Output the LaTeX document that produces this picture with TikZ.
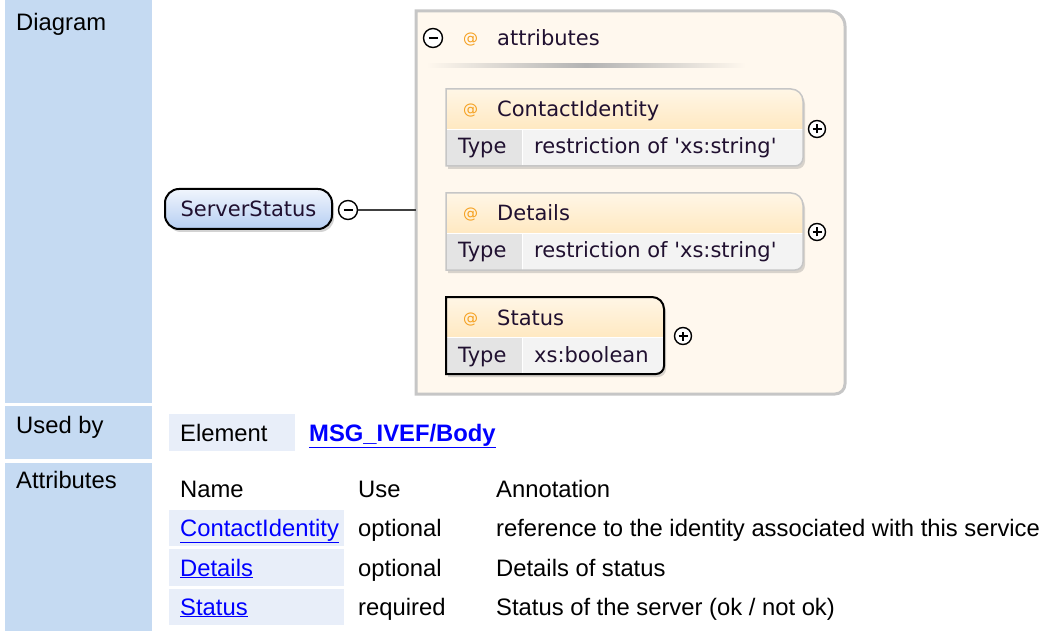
\documentclass[tikz,border=0pt]{standalone}
\usepackage{fontspec}
\setmainfont{Liberation Sans}
\newfontfamily\dgfont{DejaVu Sans}
\usepackage{tikz}
\usetikzlibrary{positioning,shadows}
\definecolor{cellblue}{HTML}{C5DAF2}
\definecolor{rowblue}{HTML}{E8EEF9}
\definecolor{linkblue}{HTML}{0000FF}
\definecolor{cream}{HTML}{FFF8EE}
\definecolor{frame}{HTML}{C6C6C6}
\definecolor{hdrtop}{HTML}{FFF6E6}
\definecolor{hdrbot}{HTML}{FFDCA0}
\definecolor{typegray}{HTML}{E4E4E4}
\definecolor{valgray}{HTML}{F3F3F3}
\definecolor{ink}{HTML}{201030}
\definecolor{atorange}{HTML}{F5A020}
\definecolor{pilltop}{HTML}{F0F5FD}
\definecolor{pillbot}{HTML}{B6CEF2}
\tikzset{
  cell/.style    ={fill=cellblue, draw=none, inner sep=0pt, anchor=north west, minimum width=147pt},
  rowcell/.style ={fill=rowblue, draw=none, inner sep=0pt, anchor=north west},
  txt/.style     ={font=\fontsize{23.8}{28}\selectfont, anchor=base west, inner sep=0pt},
  lnk/.style     ={txt, text=linkblue},
  dg/.style      ={font=\dgfont\fontsize{21}{25}\selectfont, text=ink, anchor=base west, inner sep=0pt},
  atsign/.style  ={dg, text=atorange, font=\dgfont\fontsize{15}{18}\selectfont},
  elem/.style    ={draw=black, line width=2pt, rounded corners=14pt, top color=pilltop, bottom color=pillbot, minimum width=167pt, minimum height=40pt, font=\dgfont\fontsize{21}{25}\selectfont, text=ink, drop shadow={shadow xshift=2pt, shadow yshift=-3pt, opacity=.35}},
  box/.style     ={fill=valgray, draw=frame, line width=1.5pt, drop shadow={shadow xshift=2pt, shadow yshift=-3pt, opacity=.3}},
  toggle/.style  ={draw=black, circle, line width=1.4pt, fill=white, minimum size=17pt, inner sep=0pt},
  minus/.style   ={toggle, path picture={\draw[line width=1.5pt] ([xshift=-4.5pt]path picture bounding box.center) -- ([xshift=4.5pt]path picture bounding box.center);}},
  plus/.style    ={toggle, path picture={\draw[line width=1.5pt] ([xshift=-4.5pt]path picture bounding box.center) -- ([xshift=4.5pt]path picture bounding box.center) ([yshift=-4.5pt]path picture bounding box.center) -- ([yshift=4.5pt]path picture bounding box.center);}},
  conn/.style    ={draw=black!75, line width=2.2pt},
}

\begin{document}
\begin{tikzpicture}[x=1pt, y=-1pt]
  \useasboundingbox (0,0) rectangle (1047,631);

  % left column
  \node[cell, minimum height=403pt] (diagCell) at (5,0) {};
  \node[cell, minimum height=53pt]  (usedCell) at (5,406) {};
  \node[cell, minimum height=168pt] (attrCell) at (5,463) {};
  \node[txt] (diagLbl) at (16,31)  {Diagram};
  \node[txt] (usedLbl) at (16,433) {Used by};
  \node[txt] (attrLbl) at (16,488) {Attributes};

  % attributes group
  \path[fill=cream, draw=frame, line width=3pt] (416,394) -- (416,11) -- (830,11) arc[start angle=90, end angle=0, radius=15pt] -- (845,384) arc[start angle=0, end angle=-90, radius=10pt] -- cycle;
  \shade[left color=cream, right color=cream, middle color=black!30] (426,64) rectangle (746,68);
  \node[minus, minimum size=19pt] (grpMinus) at (433,38) {};
  \node[atsign] (grpAt)  at (463,44) {@};
  \node[dg]     (grpHdr) at (497,46) {attributes};

  % ContactIdentity
  \path[box, path picture={
      \shade[top color=hdrtop, bottom color=hdrbot] (446,89) rectangle (803,129);
      \fill[typegray] (446,129) rectangle (522,166);
      \draw[white, line width=1pt] (446,129.5) -- (803,129.5) (522,129) -- (522,166);}]
    (446,166) -- (446,89) -- (791,89) arc[start angle=90, end angle=0, radius=12pt] -- (803,158) arc[start angle=0, end angle=-90, radius=8pt] -- cycle;
  \node[atsign] (ciAt)   at (463,115) {@};
  \node[dg]     (ciName) at (497,117) {ContactIdentity};
  \node[dg]     (ciType) at (458,154) {Type};
  \node[dg]     (ciVal)  at (534,154) {restriction of 'xs:string'};
  \node[plus]   (ciPlus) at (817,129) {};

  % Details
  \path[box, path picture={
      \shade[top color=hdrtop, bottom color=hdrbot] (446,193) rectangle (803,233);
      \fill[typegray] (446,233) rectangle (522,270);
      \draw[white, line width=1pt] (446,233.5) -- (803,233.5) (522,233) -- (522,270);}]
    (446,270) -- (446,193) -- (791,193) arc[start angle=90, end angle=0, radius=12pt] -- (803,262) arc[start angle=0, end angle=-90, radius=8pt] -- cycle;
  \node[atsign] (dtAt)   at (463,219) {@};
  \node[dg]     (dtName) at (497,221) {Details};
  \node[dg]     (dtType) at (458,258) {Type};
  \node[dg]     (dtVal)  at (534,258) {restriction of 'xs:string'};
  \node[plus]   (dtPlus) at (817,232) {};

  % Status
  \path[box, draw=black, line width=2pt, path picture={
      \shade[top color=hdrtop, bottom color=hdrbot] (446,297) rectangle (664,337);
      \fill[typegray] (446,337) rectangle (522,374);
      \draw[white, line width=1pt] (446,337.5) -- (664,337.5) (522,337) -- (522,374);}]
    (446,374) -- (446,297) -- (652,297) arc[start angle=90, end angle=0, radius=12pt] -- (664,366) arc[start angle=0, end angle=-90, radius=8pt] -- cycle;
  \node[atsign] (stAt)   at (463,323) {@};
  \node[dg]     (stName) at (497,325) {Status};
  \node[dg]     (stType) at (458,362) {Type};
  \node[dg]     (stVal)  at (534,362) {xs:boolean};
  \node[plus]   (stPlus) at (683,336) {};

  % element
  \node[elem] (ss) at (248.5,209) {ServerStatus};
  \node[minus, minimum size=19pt] (ssMinus) at (348,210) {};
  \coordinate (grpLeft) at (416,210);
  \draw[conn] (ssMinus) -- (grpLeft);

  % used by
  \node[rowcell, minimum width=126pt, minimum height=37pt] (elemCell) at (169,414) {};
  \node[txt] (elemTxt) at (180,441) {Element};
  \node[lnk, font=\bfseries\fontsize{23.8}{28}\selectfont] (usedLink) at (309,441) {\underline{MSG\_IVEF/Body}};

  % attribute table
  \node[rowcell, minimum width=175pt, minimum height=36pt] (ciCell) at (169,510) {};
  \node[rowcell, minimum width=175pt, minimum height=37pt] (dtCell) at (169,549) {};
  \node[rowcell, minimum width=175pt, minimum height=36pt] (stCell) at (169,589) {};
  \node[txt] (hName) at (180,497) {Name};
  \node[txt] (hUse)  at (358,497) {Use};
  \node[txt] (hAnn)  at (496,497) {Annotation};
  \node[lnk] (ciLink) at (180,536) {\underline{ContactIdentity}};
  \node[txt] (ciUse)  at (358,536) {optional};
  \node[txt] (ciAnn)  at (496,536) {reference to the identity associated with this service};
  \node[lnk] (dtLink) at (180,576) {\underline{Details}};
  \node[txt] (dtUse)  at (358,576) {optional};
  \node[txt] (dtAnn)  at (496,576) {Details of status};
  \node[lnk] (stLink) at (180,615) {\underline{Status}};
  \node[txt] (stUse)  at (358,615) {required};
  \node[txt] (stAnn)  at (496,615) {Status of the server (ok / not ok)};
\end{tikzpicture}
\end{document}
